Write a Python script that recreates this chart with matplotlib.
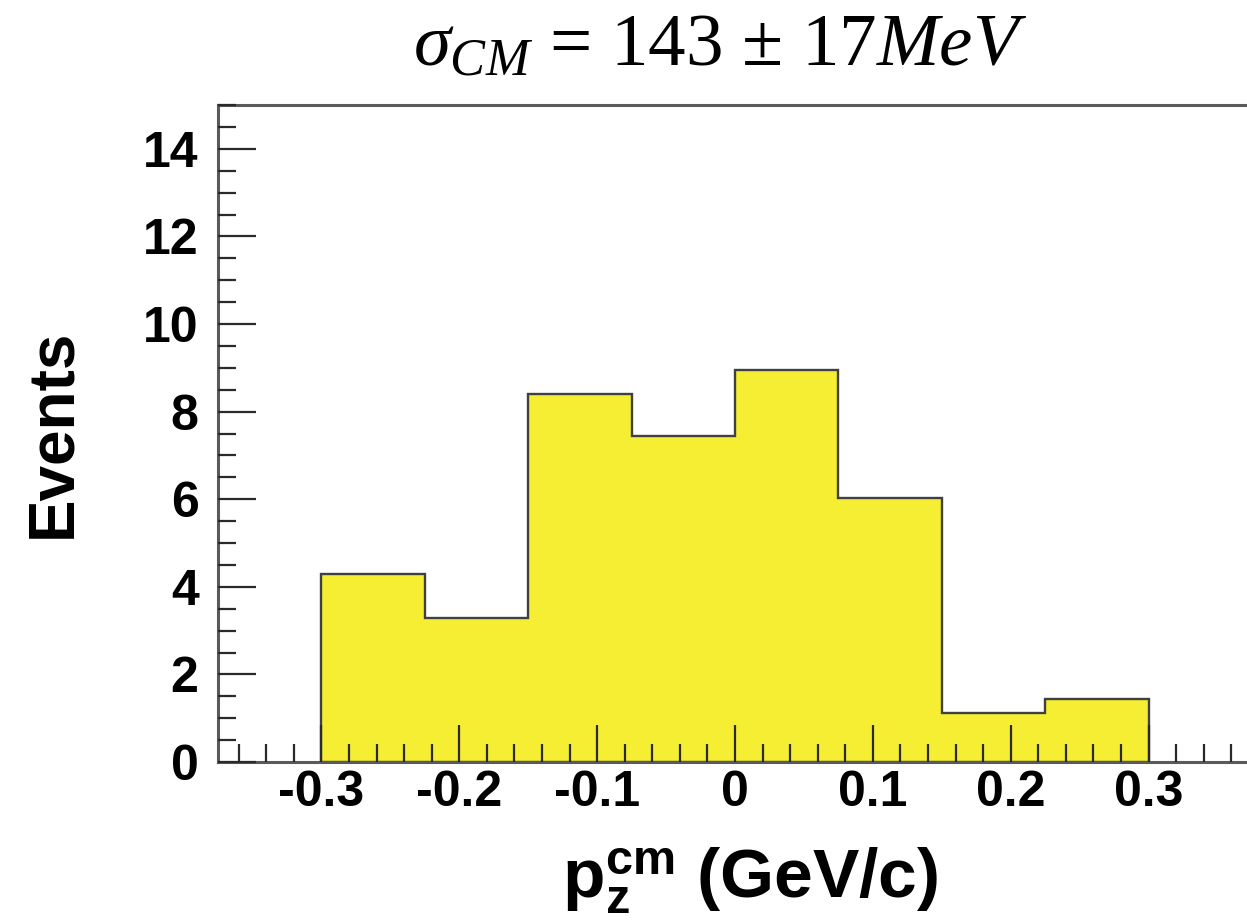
import numpy as np
import matplotlib
matplotlib.use('Agg')
import matplotlib.pyplot as plt
from matplotlib.ticker import MultipleLocator

plt.rcParams['font.family'] = ['Liberation Sans', 'DejaVu Sans']
plt.rcParams['mathtext.fontset'] = 'custom'
plt.rcParams['mathtext.rm'] = 'Liberation Serif'
plt.rcParams['mathtext.it'] = 'Liberation Serif:italic'
plt.rcParams['mathtext.bf'] = 'Liberation Sans:bold'

# histogram of p_z in the CM frame
bin_edges = [-0.3, -0.225, -0.15, -0.075, 0.0, 0.075, 0.15, 0.225, 0.3]
counts = [4.30, 3.29, 8.41, 7.44, 8.96, 6.03, 1.11, 1.43]
x_ticks = [-0.3, -0.2, -0.1, 0, 0.1, 0.2, 0.3]
x_tick_labels = ['-0.3', '-0.2', '-0.1', '0', '0.1', '0.2', '0.3']
y_ticks = [0, 2, 4, 6, 8, 10, 12, 14]

W, H = 1247, 922
fig = plt.figure(figsize=(W / 100, H / 100), dpi=100)
ax = fig.add_axes([218 / W, 1 - 762 / H, (1252 - 218) / W, (762 - 105) / H])
ax.set_axisbelow(False)

centers = [(a + b) / 2 for a, b in zip(bin_edges[:-1], bin_edges[1:])]
ax.hist(centers, bins=bin_edges, weights=counts, histtype='stepfilled',
        facecolor='#f5ee33', edgecolor='#404040', linewidth=1.7, zorder=1)

ax.set_xlim(-0.375, 0.375)
ax.set_ylim(0, 15)
ax.set_xticks(x_ticks)
ax.set_xticklabels(x_tick_labels)
ax.set_yticks(y_ticks)
ax.xaxis.set_minor_locator(MultipleLocator(0.02))
ax.yaxis.set_minor_locator(MultipleLocator(0.5))

ax.tick_params(which='both', direction='in', top=False, right=False,
               color='#2a2a2a', width=1.6)
ax.tick_params(which='major', length=27, labelsize=36)
ax.tick_params(axis='x', which='major', pad=6)
ax.tick_params(axis='y', which='major', pad=14)
ax.tick_params(which='minor', length=13)
for lab in ax.get_xticklabels() + ax.get_yticklabels():
    lab.set_fontweight('bold')

for s in ['left', 'bottom', 'top']:
    ax.spines[s].set_color('#5a5a5a')
    ax.spines[s].set_linewidth(2.2)
ax.spines['right'].set_visible(False)

fig.text(53 / W, 1 - 433 / H, 'Events', rotation=90, ha='center', va='center',
         fontsize=46, fontweight='bold')
fig.text(750 / W, 1 - 880 / H, r'$\mathbf{p}_\mathbf{z}^\mathbf{cm}$ (GeV/c)',
         ha='center', va='center', fontsize=50, fontweight='bold')
fig.text(720 / W, 1 - 65 / H, r'$\sigma_{CM}$ = 143 $\pm$ 17$MeV$',
         ha='center', va='baseline', fontsize=54, family='Liberation Serif')

fig.savefig('out.png', dpi=100)
